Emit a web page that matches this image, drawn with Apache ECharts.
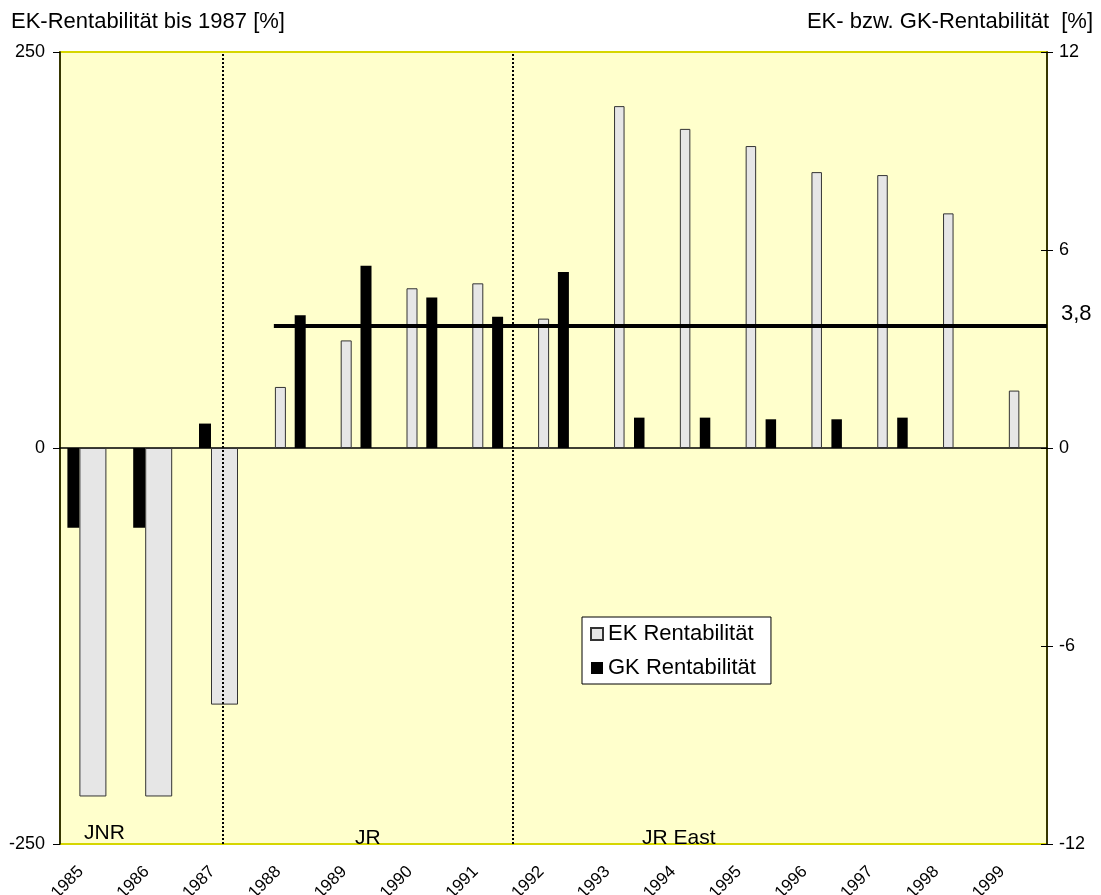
<!DOCTYPE html>
<html>
<head>
<meta charset="utf-8">
<title>EK- und GK-Rentabilität JNR / JR / JR East</title>
<script src="https://cdn.jsdelivr.net/npm/echarts@6/dist/echarts.min.js"></script>
<style>
  html, body { margin: 0; padding: 0; background: #fff; }
  #chart { width: 1101px; height: 895px; }
</style>
</head>
<body>
<div id="chart"></div>
<script>
const years = ['1985', '1986', '1987', '1988', '1989', '1990', '1991', '1992',
  '1993', '1994', '1995', '1996', '1997', '1998', '1999']

// EK-Rentabilität bis 1987, linke Achse [%]
const ekBis1987 = [-220, -220, -162]
// EK-Rentabilität ab 1988, rechte Achse [%]
const ekAb1988 = [1.85, 3.26, 4.84, 4.99, 3.92, 10.36, 9.67, 9.15, 8.36, 8.27, 7.11, 1.74]
// GK-Rentabilität, rechte Achse [%] (1998/1999 ohne Wert)
const gk = [-2.42, -2.42, 0.74, 4.02, 5.52, 4.56, 3.98, 5.33, 0.92, 0.92, 0.87, 0.87, 0.92, null, null]

// Durchschnittslinie GK
const gkMittel = 3.7
const gkMittelLabel = '3,8'
const gkMittelVon = 3.25 // in Kategorie-Einheiten

// Trennlinien JNR | JR | JR East (Kategorie-Einheiten)
const epochen = [2.47, 6.88]

const font = '"Liberation Sans", Arial, Helvetica, sans-serif'
const ek = ekBis1987.concat(ekAb1988)

function part(arr, from, to) {
  return years.map((_, i) => (i >= from && i <= to && arr[i] != null ? arr[i] : '-'))
}

const ekStyle = { color: '#e6e6e6', borderColor: '#333', borderWidth: 1 }
const gkStyle = { color: '#000' }

const chart = echarts.init(document.getElementById('chart'))

chart.setOption({
  animation: false,
  textStyle: { fontFamily: font },
  grid: {
    left: 60, right: 54, top: 52, bottom: 51,
    show: true, backgroundColor: '#ffffcc', borderColor: '#d6d600', borderWidth: 2,
    outerBoundsMode: 'none',
  },
  legend: {
    data: ['EK Rentabilität', 'GK Rentabilität'],
    orient: 'vertical', left: 582, top: 617,
    backgroundColor: '#fff', borderColor: '#000', borderWidth: 1, borderRadius: 0,
    padding: [6, 15, 5, 8], itemGap: 12, itemWidth: 12, itemHeight: 12, icon: 'rect',
    selectedMode: false,
    textStyle: { fontSize: 22, color: '#000', fontFamily: font },
  },
  xAxis: [
    {
      type: 'category', data: years, position: 'bottom',
      axisLine: { show: false, onZero: false },
      axisTick: { show: false },
      axisLabel: { rotate: 45, margin: 13, padding: [0, 17, 0, 0], fontSize: 17, color: '#000', fontFamily: font },
    },
    {
      // Nulllinie mit Teilstrichen
      type: 'category', data: years, position: 'bottom',
      axisLine: { onZero: true, lineStyle: { color: '#000', width: 1.5 } },
      axisTick: { length: 5, lineStyle: { color: '#000' } },
      axisLabel: { show: false },
    },
    { type: 'category', data: years, position: 'bottom', show: false, axisLine: { onZero: false } },
    { type: 'value', min: 0, max: 15, show: false, axisLine: { onZero: false } },
  ],
  yAxis: [
    {
      type: 'value', position: 'left', min: -250, max: 250, interval: 250,
      axisLine: { show: true, onZero: false, lineStyle: { color: '#000', width: 1.5 } },
      axisTick: { show: true, length: 7, lineStyle: { color: '#000' } },
      axisLabel: { fontSize: 18, margin: 15, color: '#000', fontFamily: font },
      splitLine: { show: false },
    },
    {
      type: 'value', position: 'right', min: -12, max: 12, interval: 6,
      axisLine: { show: true, onZero: false, lineStyle: { color: '#000', width: 1.5 } },
      axisTick: { show: true, length: 6, lineStyle: { color: '#000' } },
      axisLabel: { fontSize: 18, margin: 12, color: '#000', fontFamily: font },
      splitLine: { show: false },
    },
    {
      type: 'value', position: 'right', min: -12, max: 12, interval: 6,
      axisLine: { show: false, onZero: false },
      axisTick: { show: true, inside: true, length: 6, lineStyle: { color: '#000' } },
      axisLabel: { show: false },
      splitLine: { show: false },
    },
  ],
  series: [
    // JNR 1985-1987
    { name: 'GK Rentabilität', type: 'bar', xAxisIndex: 0, yAxisIndex: 1, barWidth: 12, barGap: '0%',
      data: part(gk, 0, 2), itemStyle: gkStyle },
    { name: 'EK Rentabilität', type: 'bar', xAxisIndex: 0, yAxisIndex: 0, barWidth: 27, barGap: '0%',
      data: part(ek, 0, 2), itemStyle: ekStyle },
    { name: 'leer1', type: 'bar', xAxisIndex: 0, yAxisIndex: 1, barWidth: 12, barGap: '0%', data: [] },
    // JR 1988-1992
    { name: 'EK Rentabilität', type: 'bar', xAxisIndex: 1, yAxisIndex: 1, barWidth: 11, barGap: '80%',
      data: part(ek, 3, 7), itemStyle: ekStyle },
    { name: 'GK Rentabilität', type: 'bar', xAxisIndex: 1, yAxisIndex: 1, barWidth: 11, barGap: '80%',
      data: part(gk, 3, 7), itemStyle: gkStyle },
    // JR East 1993-1999
    { name: 'leer2', type: 'bar', xAxisIndex: 2, yAxisIndex: 1, barWidth: 10.5, barGap: '90%', data: [] },
    { name: 'EK Rentabilität', type: 'bar', xAxisIndex: 2, yAxisIndex: 1, barWidth: 10.5, barGap: '90%',
      data: part(ek, 8, 14), itemStyle: ekStyle },
    { name: 'GK Rentabilität', type: 'bar', xAxisIndex: 2, yAxisIndex: 1, barWidth: 10.5, barGap: '90%',
      data: part(gk, 8, 14), itemStyle: gkStyle },
    {
      name: 'Mittel', type: 'line', xAxisIndex: 3, yAxisIndex: 1, clip: false,
      data: [[gkMittelVon, gkMittel], [15, gkMittel]],
      symbol: 'none', silent: true,
      lineStyle: { color: '#000', width: 4 },
      endLabel: { show: true, formatter: gkMittelLabel, fontSize: 22, color: '#000', distance: 14, offset: [0, -12] },
      markLine: {
        silent: true, symbol: 'none', label: { show: false },
        lineStyle: { color: '#000', width: 2, type: [2, 2] },
        data: epochen.map((x) => ({ xAxis: x })),
      },
    },
  ],
  graphic: [
    { type: 'text', left: 11, top: 11, style: { text: 'EK-Rentabilität bis 1987 [%]', fontSize: 22, fill: '#000', fontFamily: font } },
    { type: 'text', right: 8, top: 11, style: { text: 'EK- bzw. GK-Rentabilität  [%]', fontSize: 22, fill: '#000', fontFamily: font } },
    { type: 'text', left: 84, top: 823, z: 100, style: { text: 'JNR', fontSize: 21, fill: '#000', fontFamily: font } },
    { type: 'text', left: 355, top: 828, z: 100, style: { text: 'JR', fontSize: 21, fill: '#000', fontFamily: font } },
    { type: 'text', left: 642, top: 828, z: 100, style: { text: 'JR East', fontSize: 21, fill: '#000', fontFamily: font } },
  ],
})
</script>
</body>
</html>
